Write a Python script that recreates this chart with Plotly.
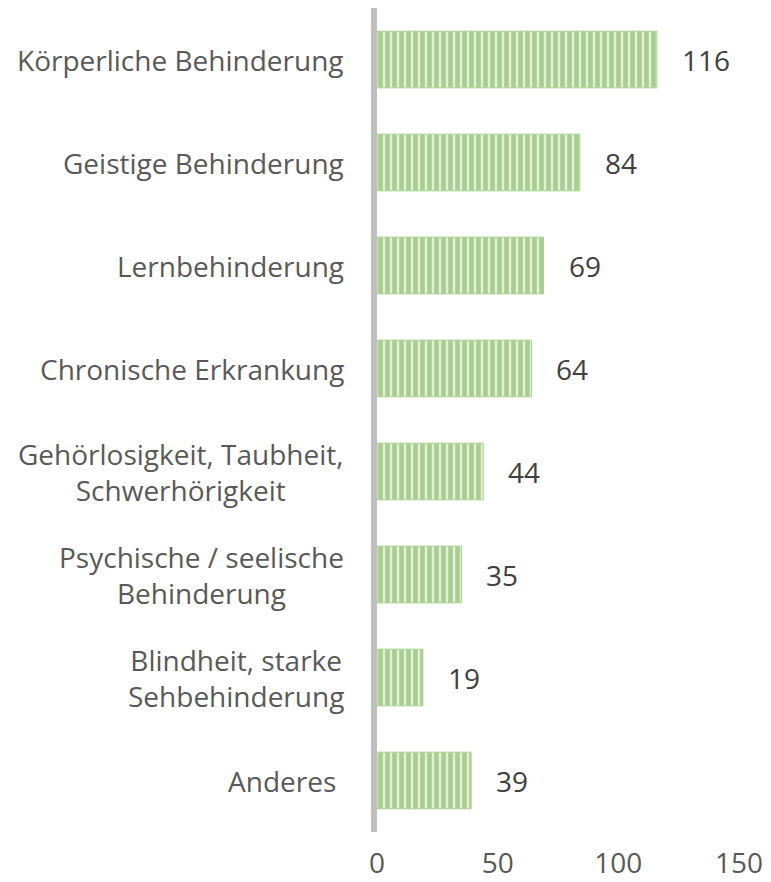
import plotly.graph_objects as go

categories = [
    "Körperliche Behinderung",
    "Geistige Behinderung",
    "Lernbehinderung",
    "Chronische Erkrankung",
    "Gehörlosigkeit, Taubheit,<br>Schwerhörigkeit",
    "Psychische / seelische<br>Behinderung",
    "Blindheit, starke<br>Sehbehinderung",
    "Anderes ",
]
counts = [116, 84, 69, 64, 44, 35, 19, 39]
x_ticks = [0, 50, 100, 150]

FONT = "Open Sans, Liberation Sans, sans-serif"

fig = go.Figure()
fig.add_trace(
    go.Bar(
        x=counts,
        y=categories,
        orientation="h",
        marker=dict(
            color="#E2EFD9",
            line=dict(color="#A9D18E", width=1),
            pattern=dict(shape="|", fgcolor="#6FAC46", bgcolor="#E2EFD9", size=7, solidity=0.65),
        ),
        hoverinfo="skip",
    )
)

# category labels, centred text block ending left of the axis
for cat in categories:
    fig.add_annotation(
        x=0, xref="paper", y=cat, yref="y",
        text=cat, showarrow=False, xanchor="right", align="center",
        xshift=-31, font=dict(family=FONT, size=28, color="#595959"),
    )

# value labels
for cat, val in zip(categories, counts):
    fig.add_annotation(
        x=val, y=cat, text=str(val), showarrow=False, xanchor="left",
        xshift=23, font=dict(family=FONT, size=28, color="#404040"),
    )

# page body has an 8px margin, so the figure is sized to fit the window
fig.update_layout(
    width=763,
    height=874,
    margin=dict(l=369, r=32, t=0, b=50),
    paper_bgcolor="white",
    plot_bgcolor="white",
    showlegend=False,
    bargap=0.45,
    font=dict(family=FONT, size=28, color="#595959"),
)
fig.update_xaxes(
    range=[0, 150], tickvals=x_ticks, showgrid=False, zeroline=False,
    ticks="", ticklabelstandoff=12, tickfont=dict(size=28, color="#595959"),
    automargin=False,
)
fig.update_yaxes(
    categoryorder="array", categoryarray=categories[::-1], autorange=True,
    showticklabels=False, showgrid=False, zeroline=False,
    showline=True, linecolor="#BFBFBF", linewidth=6, automargin=False,
)

fig.write_html("out.html")
